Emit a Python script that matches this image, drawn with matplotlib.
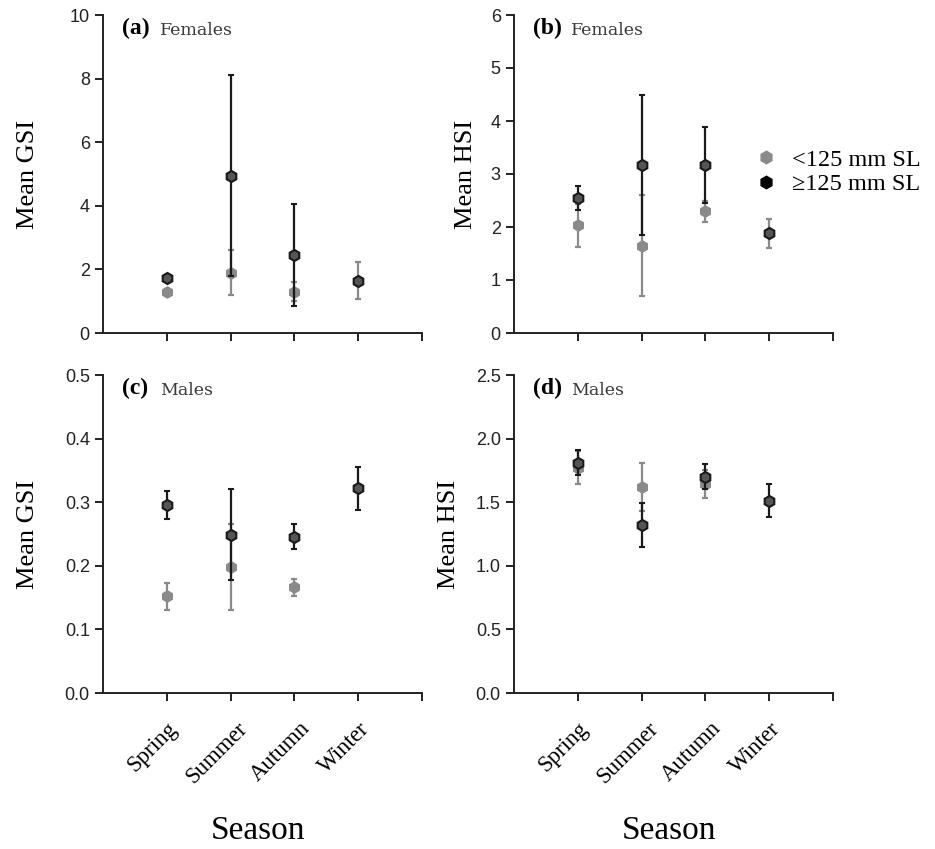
import matplotlib
matplotlib.use('Agg')
import matplotlib.pyplot as plt
import matplotlib.transforms as mtransforms
import numpy as np

seasons = ['Spring', 'Summer', 'Autumn', 'Winter']
x = np.arange(1, 5)

# (a) females GSI
gsi_f_small = [1.30, 1.90, 1.30, 1.65]
gsi_f_small_err = [0.05, 0.72, 0.30, 0.58]
gsi_f_large = [1.72, 4.95, 2.45, 1.65]
gsi_f_large_err = [0.10, 3.15, 1.60, 0.08]

# (b) females HSI
hsi_f_small = [2.03, 1.65, 2.30, 1.88]
hsi_f_small_err = [0.40, 0.96, 0.20, 0.28]
hsi_f_large = [2.55, 3.17, 3.17, 1.88]
hsi_f_large_err = [0.22, 1.32, 0.71, 0.05]

# (c) males GSI
gsi_m_small = [0.152, 0.198, 0.166, np.nan]
gsi_m_small_err = [0.021, 0.067, 0.014, np.nan]
gsi_m_large = [0.295, 0.249, 0.246, 0.322]
gsi_m_large_err = [0.022, 0.071, 0.019, 0.034]

# (d) males HSI
hsi_m_small = [1.77, 1.62, 1.64, np.nan]
hsi_m_small_err = [0.13, 0.19, 0.11, np.nan]
hsi_m_large = [1.81, 1.32, 1.70, 1.51]
hsi_m_large_err = [0.10, 0.17, 0.10, 0.13]

W, H = 935, 849
fig = plt.figure(figsize=(W / 100, H / 100), dpi=100)

GRAY = '#8a8a8a'
DARK = '#1a1a1a'
sans = ['Liberation Sans Narrow', 'Liberation Sans', 'DejaVu Sans']
serif = ['Liberation Serif', 'DejaVu Serif']


def px_axes(left, top, right, bottom):
    return fig.add_axes([left / W, 1 - bottom / H, (right - left) / W, (bottom - top) / H])


def panel(ax, small, small_err, large, large_err, ylim, yticks, yfmt,
          ylabel, ylab_x, tag, sex, show_x):
    ax.errorbar(x, small, yerr=small_err, fmt='h', color=GRAY, ecolor=GRAY,
                ms=8, mec=GRAY, elinewidth=1.6, capsize=2.5, capthick=1.6, zorder=3)
    ax.errorbar(x, large, yerr=large_err, fmt='h', color=DARK, ecolor=DARK,
                ms=8, mfc='#555555', mec=DARK, mew=1.5, elinewidth=1.6,
                capsize=2.5, capthick=1.6, zorder=4)
    ax.set_xlim(0, 5)
    ax.set_ylim(*ylim)
    ax.set_yticks(yticks)
    ax.set_yticklabels([yfmt.format(v) for v in yticks], family=sans, fontsize=13,
                       color='#222222')
    ax.set_xticks([1, 2, 3, 4, 5])
    for s in ['top', 'right']:
        ax.spines[s].set_visible(False)
    for s in ['left', 'bottom']:
        ax.spines[s].set_linewidth(1.4)
        ax.spines[s].set_color('#222222')
    ax.tick_params(axis='both', direction='out', length=6, width=1.4, color='#222222')
    if show_x:
        ax.tick_params(axis='x', pad=12)
        ax.set_xticklabels(seasons + [''], rotation=45, ha='center', va='top',
                           family=serif, fontsize=16.5)
        # labels sit a little left of their ticks in the original
        shift = mtransforms.ScaledTranslation(-0.14, 0, fig.dpi_scale_trans)
        for lab in ax.get_xticklabels():
            lab.set_transform(lab.get_transform() + shift)
    else:
        ax.set_xticklabels([])
    ax.set_ylabel(ylabel, family=serif, fontsize=19)
    ax.yaxis.set_label_coords(ylab_x, 0.5)
    ax.text(0.058, 0.99, tag, transform=ax.transAxes, family=serif, fontweight='bold',
            fontsize=17, va='top', ha='left')
    ax.text(0.179, 0.978, sex, transform=ax.transAxes, family=['DejaVu Serif'],
            fontsize=12.5, va='top', ha='left', color='#3a3a3a')


ax_a = px_axes(103, 15, 422, 333)
panel(ax_a, gsi_f_small, gsi_f_small_err, gsi_f_large, gsi_f_large_err,
      (0, 10), [0, 2, 4, 6, 8, 10], '{:g}', 'Mean GSI', -0.2, '(a)', 'Females', False)

ax_b = px_axes(514, 15, 833, 333)
panel(ax_b, hsi_f_small, hsi_f_small_err, hsi_f_large, hsi_f_large_err,
      (0, 6), [0, 1, 2, 3, 4, 5, 6], '{:g}', 'Mean HSI', -0.116, '(b)', 'Females', False)

ax_c = px_axes(103, 375, 422, 693)
panel(ax_c, gsi_m_small, gsi_m_small_err, gsi_m_large, gsi_m_large_err,
      (0, 0.5), [0, 0.1, 0.2, 0.3, 0.4, 0.5], '{:.1f}', 'Mean GSI', -0.2,
      '(c)', 'Males', True)

ax_d = px_axes(514, 375, 833, 693)
panel(ax_d, hsi_m_small, hsi_m_small_err, hsi_m_large, hsi_m_large_err,
      (0, 2.5), [0, 0.5, 1.0, 1.5, 2.0, 2.5], '{:.1f}', 'Mean HSI', -0.169,
      '(d)', 'Males', True)

for ax in (ax_c, ax_d):
    ax.set_xlabel('Season', family=serif, fontsize=24)
    ax.xaxis.set_label_coords(0.485, -0.385)

# legend in panel (b)
ax_b.plot([], [], 'h', color=GRAY, ms=9, label='<125 mm SL')
ax_b.plot([], [], 'h', color='black', ms=9, label='\u2265125 mm SL')
ax_b.legend(loc='upper left', bbox_to_anchor=(0.72, 0.61), frameon=False,
            prop={'family': serif, 'size': 17.5}, handlelength=1.0, handletextpad=0.6,
            labelspacing=0.1, borderaxespad=0)

fig.savefig('out.png', dpi=100)
